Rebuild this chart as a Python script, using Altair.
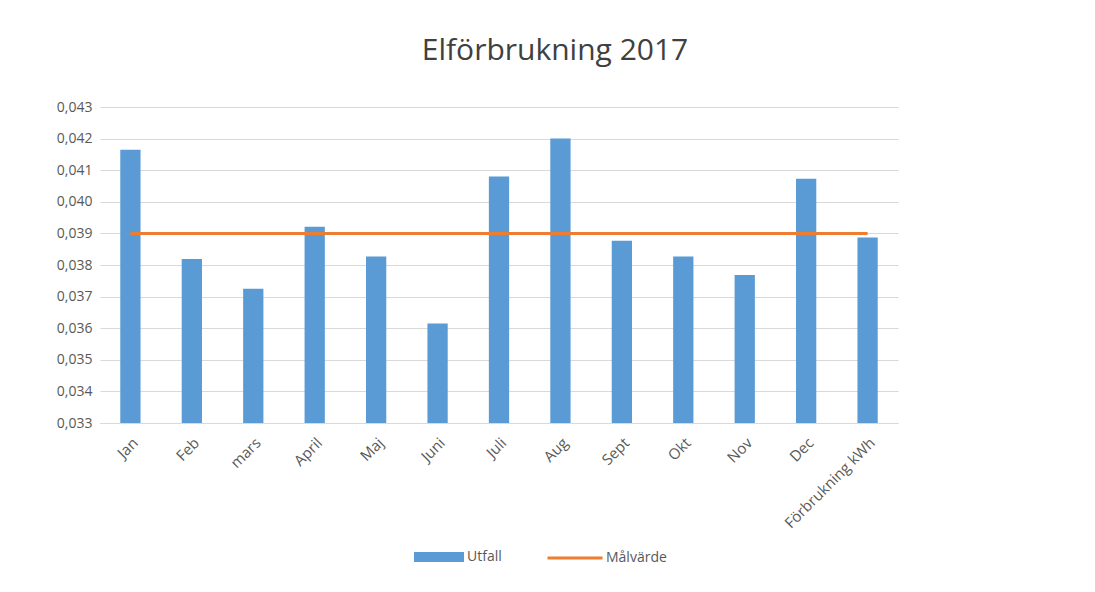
import altair as alt
import pandas as pd

categories = ["Jan", "Feb", "mars", "April", "Maj", "Juni", "Juli", "Aug", "Sept", "Okt", "Nov", "Dec", "Förbrukning kWh"]
utfall = [0.04165, 0.03819, 0.03725, 0.03921, 0.03827, 0.03615, 0.0408, 0.0420, 0.03877, 0.03827, 0.03768, 0.04073, 0.03887]
malvarde = [0.039] * 13
y_ticks = [0.033, 0.034, 0.035, 0.036, 0.037, 0.038, 0.039, 0.040, 0.041, 0.042, 0.043]

df = pd.DataFrame({"Månad": categories, "Utfall": utfall, "Målvärde": malvarde,
                   "s1": ["Utfall"] * 13, "s2": ["Målvärde"] * 13})

FONT = "Open Sans"
GRAY = "#595959"

x = alt.X("Månad:N", sort=categories, title=None,
          scale=alt.Scale(paddingInner=0.67, paddingOuter=0.33),
          axis=alt.Axis(labelAngle=-45, labelFontSize=15, labelColor=GRAY, labelFont=FONT,
                        ticks=False, domainColor="#d9d9d9", labelPadding=12, labelOverlap=False))

yscale = alt.Scale(domain=[0.033, 0.043], zero=False, nice=False)
yaxis = alt.Axis(values=y_ticks, tickCount=11, labelOverlap=False,
                 labelExpr="replace(format(datum.value, '.3f'), '.', ',')",
                 labelFontSize=14, labelColor=GRAY, labelFont=FONT, ticks=False, domain=False,
                 gridColor="#d9d9d9", gridWidth=1, labelPadding=8)

bars = alt.Chart(df).mark_bar(color="#5b9bd5", clip=True).encode(
    x=x,
    y=alt.Y("Utfall:Q", title=None, scale=yscale, axis=yaxis),
    fill=alt.Fill("s1:N", scale=alt.Scale(range=["#5b9bd5"]), title=None,
                  legend=alt.Legend(orient="none", legendX=314, legendY=425,
                                    symbolType="M-1,-0.2H1V0.2H-1Z", symbolSize=2500,
                                    labelFontSize=14, labelColor=GRAY, labelFont=FONT,
                                    symbolStrokeWidth=0, padding=0, labelOffset=3)),
)

line = alt.Chart(df).mark_line(strokeWidth=3).encode(
    x=x,
    y=alt.Y("Målvärde:Q", title=None, scale=yscale, axis=yaxis),
    stroke=alt.Stroke("s2:N", scale=alt.Scale(range=["#ed7d31"]), title=None,
                      legend=alt.Legend(orient="none", legendX=446, legendY=422,
                                        symbolType="stroke", symbolSize=3025, symbolStrokeWidth=3,
                                        labelFontSize=14, labelColor=GRAY, labelFont=FONT,
                                        padding=0, labelOffset=2)),
)

chart = alt.layer(bars, line).resolve_scale(fill="independent", stroke="independent").properties(
    width=798, height=316,
    title=alt.Title("Elförbrukning 2017", fontSize=30, font=FONT, fontWeight="normal", color="#404040",
                    offset=34, dx=56),
    autosize=alt.AutoSizeParams(type="none"),
    padding={"left": 92, "top": 99, "right": 185, "bottom": 165},
).configure_view(stroke=None)

chart.save("out.html", embed_options={"renderer": "svg", "actions": False})
